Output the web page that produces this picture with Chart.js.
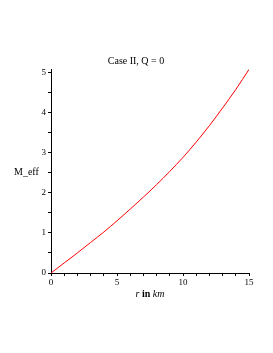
<!DOCTYPE html>
<html><head><meta charset="utf-8">
<script src="https://cdn.jsdelivr.net/npm/chart.js@4"></script>
<style>html,body{margin:0;padding:0;background:#fff}</style>
</head><body>
<canvas id="c" width="273" height="353"></canvas>
<script>
const rValues = [0,1,2,3,4,5,6,7,8,9,10,11,12,13,14,15];
const mEff = [0,0.25,0.50,0.76,1.02,1.30,1.59,1.89,2.20,2.53,2.88,3.26,3.67,4.11,4.57,5.07];
const chartTitle = "Case II, Q = 0";
const yLabel = "M_eff";
const xTickLabels = [0,5,10,15];
const yTickLabels = [0,1,2,3,4,5];

const FONT = "'Liberation Serif', 'Times New Roman', serif";
const near = (v, list) => list.some(t => Math.abs(t - v) < 1e-6);

const textPlugin = {
  id: 'texts',
  afterDraw(chart) {
    const ctx = chart.ctx, a = chart.chartArea;
    ctx.save();
    ctx.fillStyle = '#000';
    ctx.textBaseline = 'middle';
    ctx.font = "10px " + FONT;
    ctx.textAlign = 'center';
    ctx.fillText(chartTitle, 136, 61);
    ctx.textAlign = 'left';
    ctx.fillText(yLabel, 14, 172);
    const parts = [["italic 10px " + FONT, "r "],["bold 10px " + FONT, "in "],["italic 10px " + FONT, "km"]];
    let total = 0;
    parts.forEach(p => { ctx.font = p[0]; total += ctx.measureText(p[1]).width; });
    let x = (a.left + a.right) / 2 - total / 2;
    parts.forEach(p => { ctx.font = p[0]; ctx.fillText(p[1], x, 294); x += ctx.measureText(p[1]).width; });
    ctx.restore();
  }
};

new Chart(document.getElementById('c'), {
  type: 'line',
  data: {
    datasets: [{
      data: rValues.map((r, i) => ({x: r, y: mEff[i]})),
      borderColor: '#ff0000',
      borderWidth: 1,
      pointRadius: 0,
      cubicInterpolationMode: 'monotone',
      fill: false
    }]
  },
  options: {
    responsive: false,
    animation: false,
    events: [],
    layout: { padding: { left: 30, right: 24, top: 69, bottom: 60 } },
    plugins: { legend: { display: false }, tooltip: { enabled: false }, title: { display: false } },
    scales: {
      x: {
        type: 'linear', min: 0, max: 15,
        border: { display: true, color: '#000', width: 1 },
        grid: { display: true, drawOnChartArea: false, drawTicks: true, tickLength: 3, color: '#000' },
        ticks: {
          stepSize: 1, autoSkip: false, maxRotation: 0, padding: 1,
          color: '#000', font: { family: FONT, size: 9 },
          callback: v => near(v, xTickLabels) ? String(Math.round(v)) : ''
        },
        afterFit(s) { s.height = 20; }
      },
      y: {
        type: 'linear', min: 0, max: 5.08,
        border: { display: true, color: '#000', width: 1 },
        grid: { display: true, drawOnChartArea: false, drawTicks: true, tickLength: 3, color: '#000' },
        ticks: {
          stepSize: 0.5, autoSkip: false, padding: 2, includeBounds: false,
          color: '#000', font: { family: FONT, size: 9 },
          callback: v => near(v, yTickLabels) ? String(Math.round(v)) : ''
        },
        afterFit(s) { s.width = 21; }
      }
    }
  },
  plugins: [textPlugin]
});
</script>
</body></html>
